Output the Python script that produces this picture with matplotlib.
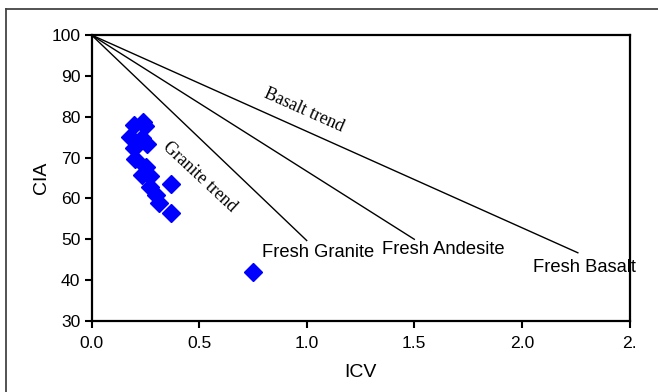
import matplotlib
matplotlib.use("Agg")
import matplotlib.pyplot as plt
from matplotlib.lines import Line2D

plt.rcParams['font.family'] = ['Liberation Sans', 'DejaVu Sans']

# samples (ICV, CIA)
icv = [0.199, 0.238, 0.248, 0.179, 0.234, 0.199, 0.257, 0.203,
       0.254, 0.234, 0.271, 0.271, 0.300, 0.312, 0.371, 0.371, 0.751]
cia = [78.0, 78.8, 77.7, 75.1, 74.7, 72.4, 73.2, 69.7,
       67.8, 65.7, 65.6, 62.9, 60.8, 59.0, 63.5, 56.5, 42.1]

# trend lines from (0, 100) to fresh rock compositions
fresh_names = ["Fresh Granite", "Fresh Andesite", "Fresh Basalt"]
fresh_icv = [1.0, 1.5, 2.26]
fresh_cia = [49.7, 50.0, 46.7]
fresh_label_x = [0.79, 1.35, 2.05]
fresh_label_y = [45.6, 46.3, 42.1]

xticks = [0.0, 0.5, 1.0, 1.5, 2.0, 2.5]
xticklabels = ["0.0", "0.5", "1.0", "1.5", "2.0", "2."]
yticks = [30, 40, 50, 60, 70, 80, 90, 100]

W, H = 658, 392
fig = plt.figure(figsize=(W / 100, H / 100), dpi=100)
ax = fig.add_axes([91.5 / W, 1 - 321 / H, (629.5 - 91.5) / W, (321 - 35) / H])

for xe, ye in zip(fresh_icv, fresh_cia):
    ax.plot([0, xe], [100, ye], color="black", lw=1.0, clip_on=False, zorder=2)

for name, lx, ly in zip(fresh_names, fresh_label_x, fresh_label_y):
    ax.text(lx, ly, name, fontsize=13.2, ha="left", va="baseline",
            clip_on=False, zorder=1)

ax.plot(icv, cia, linestyle="none", marker="D", markersize=9.5,
        color="#0000FF", markeredgecolor="#0000FF", zorder=3)

ax.text(0.987, 81.6, "Basalt trend", family="Liberation Serif", fontsize=12.8,
        rotation=-24, rotation_mode="anchor", ha="center", va="center")
ax.text(0.504, 65.2, "Granite trend", family="Liberation Serif", fontsize=12.8,
        rotation=-43, rotation_mode="anchor", ha="center", va="center")

ax.set_xlim(0, 2.5)
ax.set_ylim(30, 100)
ax.set_xticks(xticks)
ax.set_xticklabels(xticklabels)
ax.set_yticks(yticks)
ax.tick_params(direction="out", length=5, width=1.5, labelsize=12.6, pad=3)
ax.tick_params(axis="x", pad=6)
for s in ax.spines.values():
    s.set_linewidth(1.6)
    s.set_color("black")

ax.set_xlabel("ICV", fontsize=14, labelpad=9)
ax.set_ylabel("CIA", fontsize=14, labelpad=1)

# outer frame (top and left edges visible)
fig.add_artist(Line2D([6 / W, 1], [1 - 9 / H, 1 - 9 / H],
                      transform=fig.transFigure, color="#444444", lw=1.3))
fig.add_artist(Line2D([6 / W, 6 / W], [0, 1 - 9 / H],
                      transform=fig.transFigure, color="#444444", lw=1.3))

fig.savefig("out.png", dpi=100)
